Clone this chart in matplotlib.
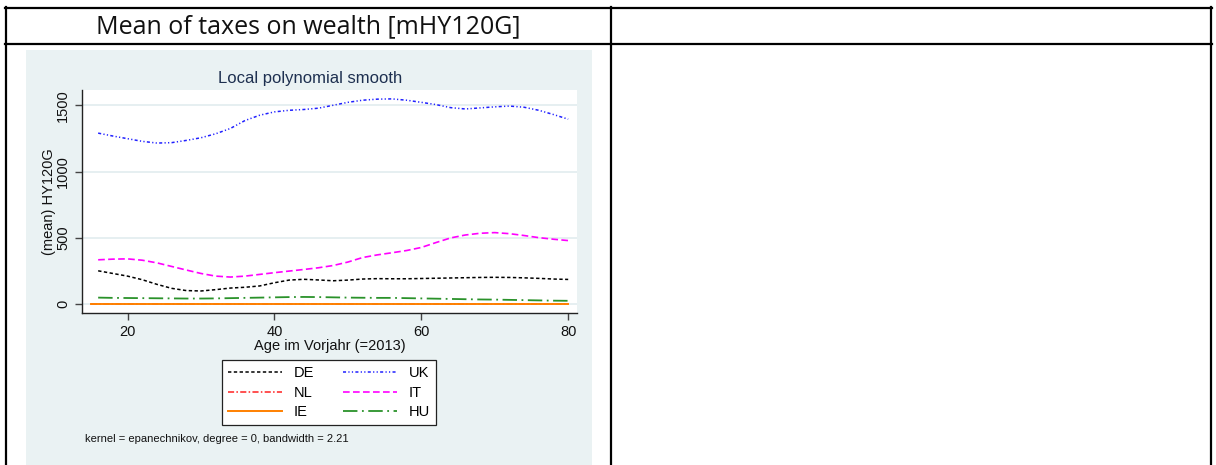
import matplotlib as mpl
mpl.use("Agg")
import matplotlib.pyplot as plt
from matplotlib.lines import Line2D
from matplotlib.patches import Rectangle

W, H = 1216, 465

# smoothed means of HY120G by age, one list per country
ages = [16, 18, 20, 22, 24, 26, 28, 30, 32, 34, 36, 38, 40, 42, 44, 46, 48,
        50, 52, 54, 56, 58, 60, 62, 64, 66, 68, 70, 72, 74, 76, 78, 80]
de = [252, 232, 212, 185, 150, 120, 103, 100, 110, 122, 128, 138, 162, 182, 188, 183, 177,
      182, 190, 193, 192, 192, 194, 196, 198, 200, 202, 203, 202, 199, 195, 190, 187]
uk = [1290, 1268, 1248, 1228, 1215, 1218, 1235, 1255, 1285, 1325, 1385, 1425, 1450, 1462,
      1468, 1478, 1500, 1522, 1538, 1546, 1548, 1538, 1522, 1505, 1482, 1472, 1480, 1488,
      1494, 1485, 1462, 1430, 1395]
it = [335, 340, 342, 332, 312, 285, 258, 232, 212, 205, 212, 225, 238, 250, 262, 275, 292,
      318, 352, 372, 388, 405, 428, 465, 500, 522, 535, 540, 532, 518, 502, 490, 480]
hu = [50, 48, 47, 46, 45, 44, 43, 43, 44, 46, 48, 50, 52, 54, 55, 54, 52,
      50, 49, 48, 48, 46, 44, 42, 40, 38, 36, 35, 33, 31, 29, 27, 26]
ages_low = [15, 20, 25, 30, 35, 40, 45, 50, 55, 60, 65, 70, 75, 80]
nl = [2, 2, 2, 2, 2, 2, 2, 2, 2, 2, 2, 2, 2, 2]
ie = [0, 0, 0, 0, 0, 0, 0, 0, 0, 0, 0, 0, 0, 0]

xticks = [20, 40, 60, 80]
yticks = [0, 500, 1000, 1500]

plt.rcParams["font.family"] = ["Liberation Sans", "DejaVu Sans"]


def fx(px):
    return px / W


def fy(py):
    return 1 - py / H


fig = plt.figure(figsize=(W / 100, H / 100), dpi=100)

# table frame around the graph
frame = dict(color="black", lw=1.6, transform=fig.transFigure, zorder=5)
fig.add_artist(Line2D([fx(5), fx(1212)], [fy(7.7), fy(7.7)], **frame))
fig.add_artist(Line2D([fx(5), fx(1212)], [fy(44.5), fy(44.5)], **frame))
for xp in (6, 611, 1211):
    fig.add_artist(Line2D([fx(xp), fx(xp)], [fy(7), fy(466)], **frame))
fig.text(fx(308), fy(27), "Mean of taxes on wealth [mHY120G]", ha="center", va="center",
         fontsize=18, family=["Open Sans", "DejaVu Sans"], color="#111111")

# Stata-style graph region
fig.add_artist(Rectangle((fx(26), fy(466)), fx(592) - fx(26), fy(50) - fy(466),
                         transform=fig.transFigure, facecolor="#EAF2F3", edgecolor="none",
                         zorder=0))

ax = fig.add_axes([fx(82), fy(313), fx(577) - fx(82), fy(90) - fy(313)])
ax.set_facecolor("white")

ax.plot(ages, de, color="black", lw=1.1, dashes=(2.2, 1.6), label="DE")
ax.plot(ages_low, nl, color="#FF2020", lw=1.1, dashes=(4, 1.5, 1, 1.5), label="NL")
ax.plot(ages_low, ie, color="#FF8000", lw=1.4, label="IE")
ax.plot(ages, uk, color="#2020FF", lw=1.1, dashes=(2, 1.5, 0.8, 1.5, 0.8, 1.5), label="UK")
ax.plot(ages, it, color="#FF00FF", lw=1.2, dashes=(4, 2), label="IT")
ax.plot(ages, hu, color="#2A922A", lw=1.3, dashes=(8, 2.5, 1, 2.5), label="HU")

ax.set_xlim(13.8, 81.2)
ax.set_ylim(-66, 1615)
ax.set_xticks(xticks)
ax.set_yticks(yticks)
ax.set_yticklabels([str(v) for v in yticks], rotation=90, va="center")
ax.tick_params(axis="both", labelsize=10.5, length=5, width=1, color="#444444",
               labelcolor="#111111")
ax.grid(axis="y", color="#E4EEF0", lw=1.3)
ax.set_axisbelow(True)
for side in ("top", "right"):
    ax.spines[side].set_visible(False)
for side in ("left", "bottom"):
    ax.spines[side].set_color("#222222")
    ax.spines[side].set_linewidth(1)

ax.set_xlabel("Age im Vorjahr (=2013)", fontsize=10.5, color="#111111", labelpad=0)
ax.set_ylabel("(mean) HY120G", fontsize=10.5, color="#111111", labelpad=0.5)
fig.text(fx(310), fy(78), "Local polynomial smooth", ha="center", va="center",
         fontsize=12, color="#1E3050")

leg = ax.legend(ncol=2, loc="upper left", bbox_to_anchor=(fx(222), fy(360)),
                bbox_transform=fig.transFigure, borderaxespad=0, fontsize=10.5,
                handlelength=3.7, handletextpad=0.8, columnspacing=2.0, labelspacing=0.4,
                borderpad=0.4, fancybox=False, framealpha=1, edgecolor="#222222")
leg.get_frame().set_linewidth(0.9)

fig.text(fx(85), fy(439), "kernel = epanechnikov, degree = 0, bandwidth = 2.21",
         ha="left", va="center", fontsize=8, color="#111111")

fig.savefig("out.png", dpi=100, facecolor="white")
